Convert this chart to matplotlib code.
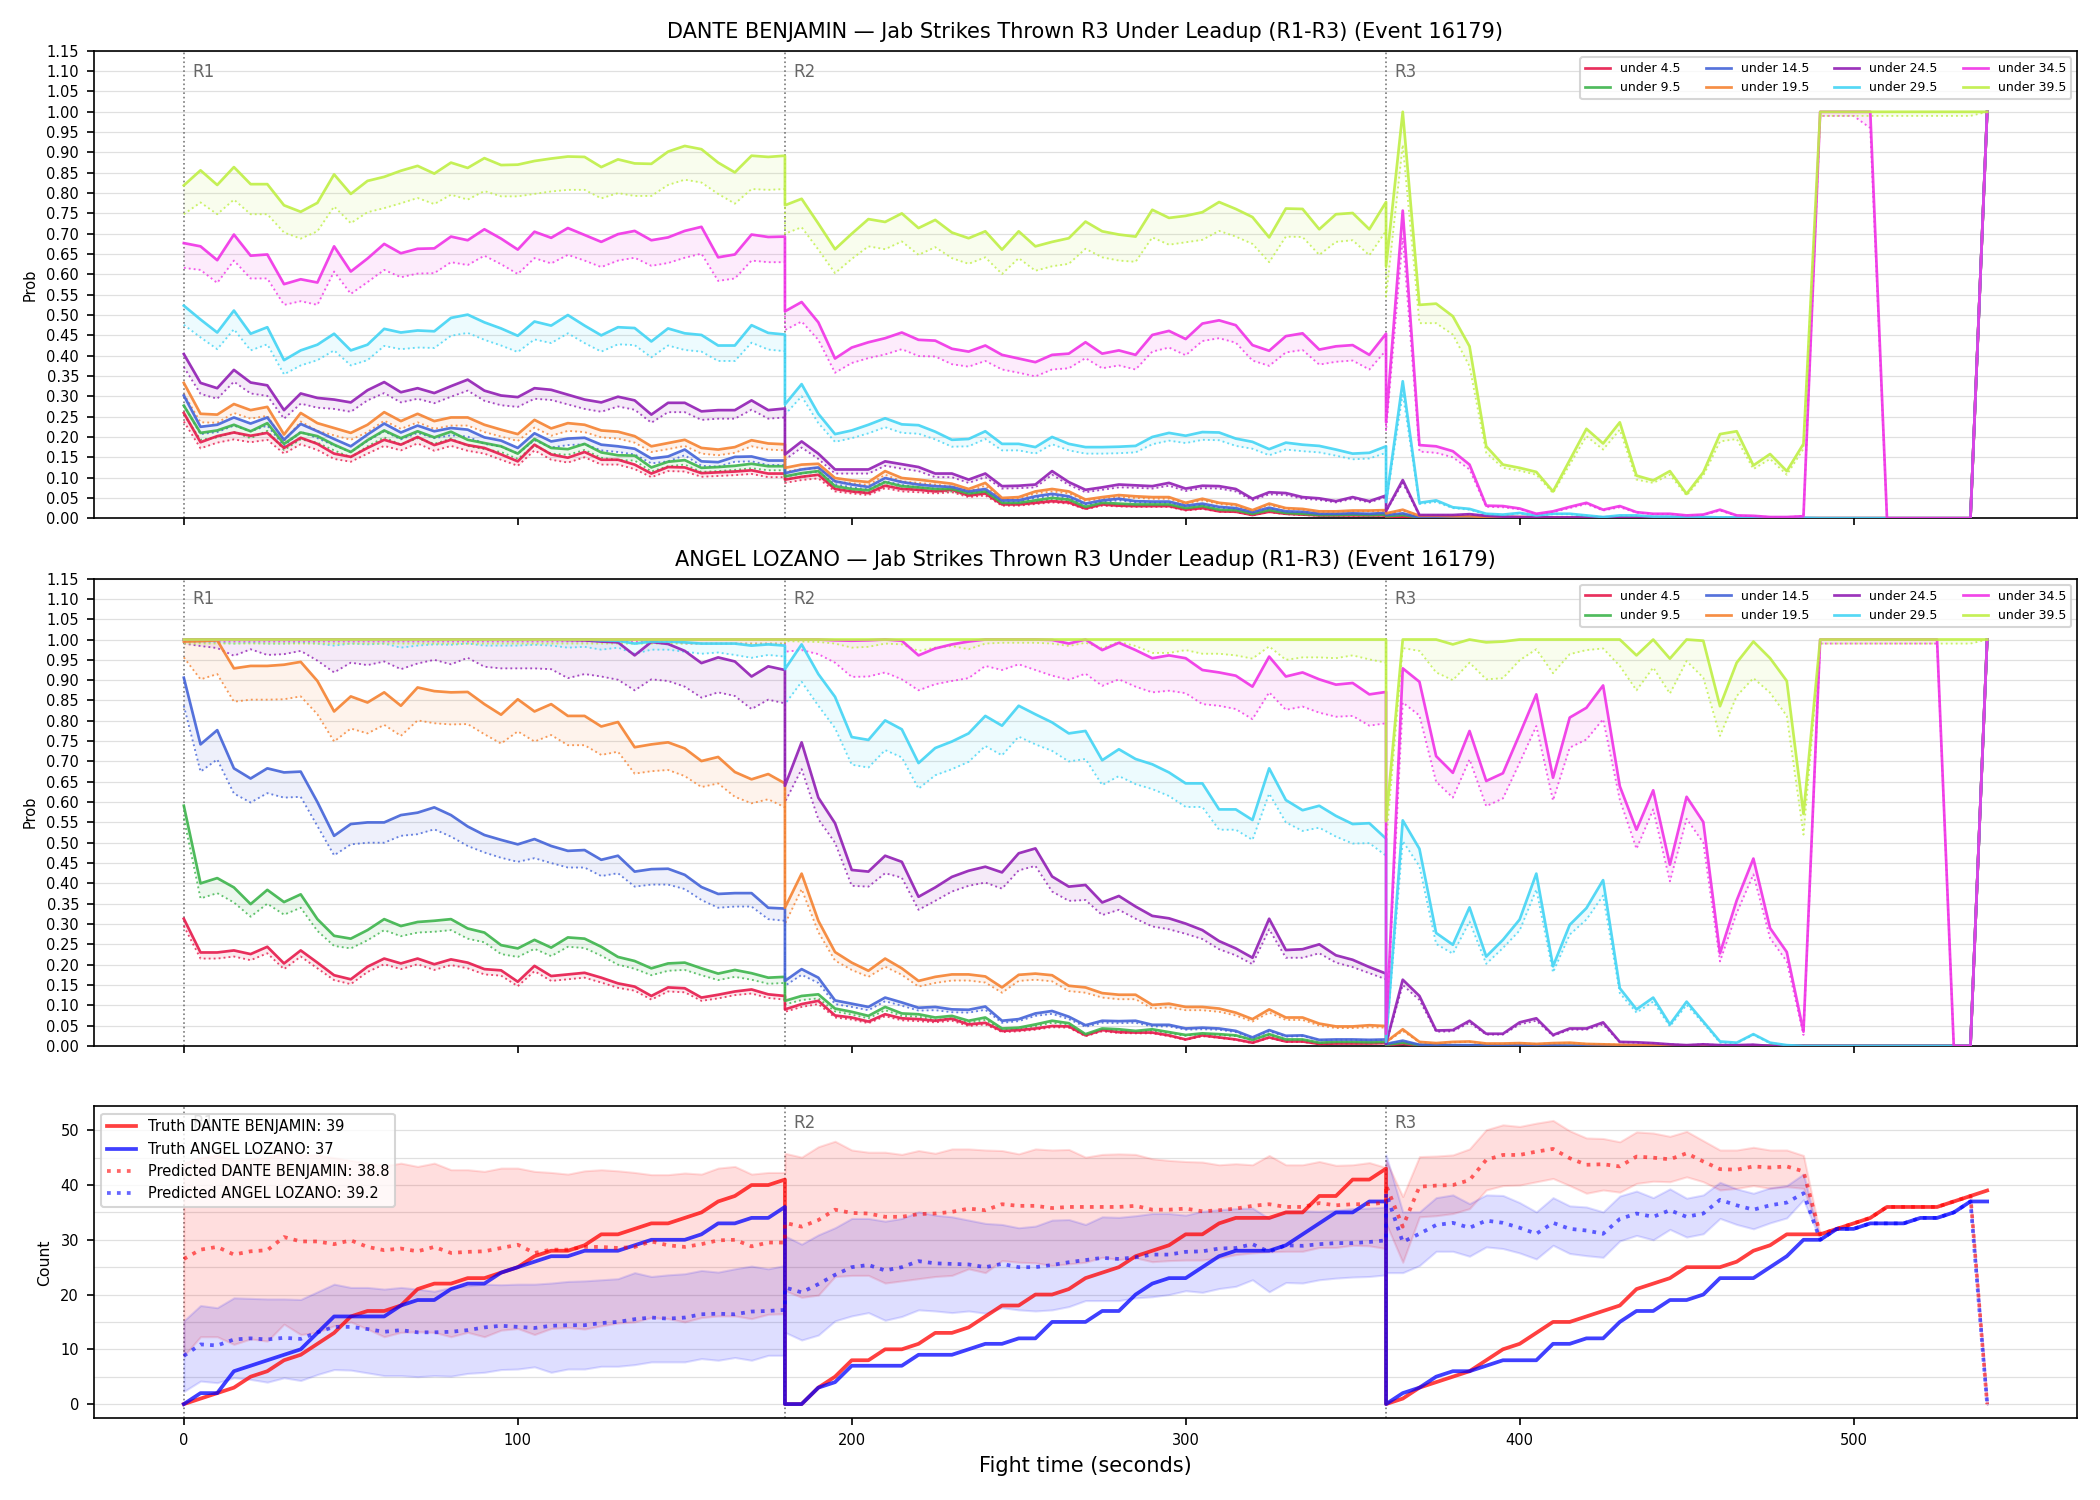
import numpy as np
import matplotlib
matplotlib.use("Agg")
import matplotlib.pyplot as plt
import matplotlib.transforms as mtransforms
from matplotlib.ticker import MultipleLocator, FormatStrFormatter

# ---------------- data ----------------
ROUND_TIMES = list(range(0, 181, 5))      # seconds inside a round
ROUND_STARTS = [0, 180, 360]
ROUND_LABELS = ["R1", "R2", "R3"]
THRESHOLDS = ["under 4.5", "under 9.5", "under 14.5", "under 19.5",
              "under 24.5", "under 29.5", "under 34.5", "under 39.5"]
COLORS = ["#e6194b", "#3cb44b", "#4363d8", "#f58231",
          "#911eb4", "#42d4f4", "#f032e6", "#bfef45"]
NAME_A = "DANTE BENJAMIN"
NAME_B = "ANGEL LOZANO"
TITLE_SUFFIX = " \u2014 Jab Strikes Thrown R3 Under Leadup (R1-R3) (Event 16179)"
FINAL_TRUTH_A = 39
FINAL_TRUTH_B = 37
FINAL_PRED_A = 38.8
FINAL_PRED_B = 39.2

# ---- DANTE BENJAMIN probabilities (solid) and lower (dotted) ----
D_U4 = ([.259,.187,.202,.211,.203,.210,.173,.198,.183,.159,.151,.173,.193,.181,.200,.180,.193,.180,.173,.157,.140,.181,.157,.149,.163,.144,.144,.132,.110,.126,.125,.111,.113,.115,.118,.110,.110]
        + [.095,.102,.107,.072,.066,.062,.080,.072,.070,.066,.070,.056,.061,.034,.034,.038,.042,.039,.024,.034,.031,.030,.030,.030,.021,.025,.017,.016,.008,.016,.011,.009,.007,.007,.007,.007,.007]
        + [.003,.004,.001,.001,.001,.001,.001] + [0] * 29 + [1])
D_U4_DOT = ([.238,.172,.186,.194,.187,.193,.159,.182,.168,.146,.139,.159,.178,.167,.184,.166,.178,.166,.159,.144,.129,.167,.144,.137,.150,.132,.132,.121,.101,.116,.115,.102,.104,.106,.109,.101,.101]
            + [.087,.094,.098,.066,.061,.057,.074,.066,.064,.061,.064,.052,.056,.031,.031,.035,.039,.036,.022,.031,.029,.028,.028,.028,.019,.023,.016,.015,.007,.015,.010,.008,.006,.006,.006,.006,.006]
            + [.003,.004,.001,.001,.001,.001,.001] + [0] * 29 + [1])
D_U9 = ([.277,.210,.216,.230,.214,.234,.183,.211,.202,.181,.163,.192,.216,.197,.214,.199,.213,.193,.185,.177,.159,.195,.173,.170,.183,.162,.155,.154,.125,.139,.143,.124,.126,.129,.134,.128,.128]
        + [.103,.111,.116,.079,.072,.069,.089,.079,.076,.072,.072,.061,.066,.038,.038,.044,.050,.046,.028,.038,.036,.034,.034,.034,.025,.030,.021,.020,.011,.020,.013,.011,.008,.008,.009,.008,.009]
        + [.005,.008,.002,.002,.002,.001,.001] + [0] * 29 + [1])
D_U9_DOT = ([.255,.193,.199,.212,.197,.215,.168,.194,.186,.167,.150,.177,.199,.181,.197,.183,.196,.178,.170,.163,.146,.179,.159,.156,.168,.149,.143,.142,.115,.128,.132,.114,.116,.119,.123,.118,.118]
            + [.095,.102,.107,.073,.066,.063,.082,.073,.070,.066,.066,.056,.061,.035,.035,.040,.046,.042,.026,.035,.033,.031,.031,.031,.023,.028,.019,.018,.010,.018,.012,.010,.007,.007,.008,.007,.008]
            + [.004,.007,.002,.002,.002,.001,.001] + [0] * 29 + [1])
D_U14 = ([.302,.225,.230,.248,.233,.248,.193,.232,.214,.195,.177,.206,.233,.211,.228,.214,.222,.218,.199,.191,.173,.209,.189,.196,.198,.181,.177,.171,.147,.152,.169,.140,.138,.151,.152,.142,.142]
         + [.111,.120,.125,.091,.083,.077,.099,.089,.083,.079,.077,.066,.072,.044,.044,.054,.060,.054,.036,.044,.048,.042,.041,.041,.031,.036,.028,.025,.015,.026,.017,.016,.011,.011,.012,.011,.013]
         + [.008,.012,.002,.002,.002,.002,.001] + [0] * 29 + [1])
D_U14_DOT = ([.278,.207,.212,.228,.214,.228,.178,.213,.197,.179,.163,.190,.214,.194,.210,.197,.204,.201,.183,.176,.159,.192,.174,.180,.182,.167,.163,.157,.135,.140,.155,.129,.127,.139,.140,.131,.131]
             + [.102,.110,.115,.084,.076,.071,.091,.082,.076,.073,.071,.061,.066,.040,.040,.050,.055,.050,.033,.040,.044,.039,.038,.038,.029,.033,.026,.023,.014,.024,.016,.015,.010,.010,.011,.010,.012]
             + [.007,.011,.002,.002,.002,.002,.001] + [0] * 29 + [1])
D_U19 = ([.333,.257,.255,.281,.266,.274,.206,.259,.234,.222,.210,.230,.261,.239,.257,.239,.248,.248,.230,.218,.207,.242,.221,.234,.230,.216,.213,.202,.177,.185,.193,.173,.169,.175,.192,.184,.182]
         + [.124,.132,.134,.099,.093,.089,.116,.099,.095,.090,.085,.072,.087,.050,.052,.066,.072,.066,.046,.052,.057,.054,.052,.052,.038,.048,.038,.034,.020,.036,.025,.023,.017,.017,.019,.019,.020]
         + [.012,.021,.006,.006,.005,.005,.003,.003,.003,.002,.002,.001,.001,.001,.001,.001,.001,.001,.001,.001] + [0] * 16 + [1])
D_U19_DOT = ([.306,.236,.235,.259,.245,.252,.190,.238,.215,.204,.193,.212,.240,.220,.236,.220,.228,.228,.212,.201,.190,.223,.203,.215,.212,.199,.196,.186,.163,.170,.178,.159,.155,.161,.177,.169,.167]
             + [.114,.121,.123,.091,.086,.082,.107,.091,.087,.083,.078,.066,.080,.046,.048,.061,.066,.061,.042,.048,.052,.050,.048,.048,.035,.044,.035,.031,.018,.033,.023,.021,.016,.016,.017,.017,.018]
             + [.011,.019,.006,.006,.005,.005,.003,.003,.003,.002,.002,.001,.001,.001,.001,.001,.001,.001,.001,.001] + [0] * 16 + [1])
D_U24 = ([.404,.333,.320,.365,.334,.327,.266,.307,.296,.292,.285,.315,.335,.310,.320,.308,.325,.341,.314,.302,.298,.320,.316,.304,.292,.285,.299,.290,.255,.284,.284,.263,.266,.266,.290,.266,.270]
         + [.157,.189,.159,.120,.120,.120,.140,.133,.126,.110,.110,.095,.110,.079,.080,.083,.116,.089,.070,.076,.083,.081,.079,.087,.073,.080,.079,.072,.048,.064,.062,.052,.049,.042,.052,.042,.056]
         + [.018,.094,.008,.008,.008,.010,.006,.004,.003,.003,.002,.002,.002,.002,.002,.001,.001,.001,.001,.001] + [0] * 16 + [1])
D_U24_DOT = ([.372,.306,.294,.336,.307,.301,.245,.282,.272,.269,.262,.290,.308,.285,.294,.283,.299,.314,.289,.278,.274,.294,.291,.280,.269,.262,.275,.267,.235,.261,.261,.242,.245,.245,.267,.245,.248]
             + [.144,.174,.146,.110,.110,.110,.129,.122,.116,.101,.101,.087,.101,.073,.074,.076,.107,.082,.064,.070,.076,.075,.073,.080,.067,.074,.073,.066,.044,.059,.057,.048,.045,.039,.048,.039,.052]
             + [.017,.087,.007,.007,.007,.009,.006,.004,.003,.003,.002,.002,.002,.002,.002,.001,.001,.001,.001,.001] + [0] * 16 + [1])
D_U29 = ([.523,.489,.457,.511,.454,.470,.389,.413,.427,.454,.413,.427,.466,.457,.462,.460,.493,.501,.482,.467,.449,.484,.474,.500,.474,.450,.470,.468,.435,.467,.455,.451,.425,.425,.475,.456,.452]
         + [.280,.330,.257,.207,.216,.230,.246,.231,.229,.213,.193,.195,.214,.183,.183,.175,.200,.183,.175,.175,.176,.178,.200,.210,.203,.212,.211,.196,.188,.170,.186,.181,.178,.169,.159,.161,.177]
         + [.040,.337,.038,.044,.027,.023,.011,.009,.013,.007,.011,.011,.007,.003,.007,.007,.004,.004,.003,.003,.002,.002,.001,.001,.001,.001] + [0] * 10 + [1])
D_U29_DOT = ([.476,.445,.416,.465,.413,.428,.354,.376,.389,.413,.376,.389,.424,.416,.420,.419,.449,.456,.439,.425,.409,.440,.431,.455,.431,.410,.428,.426,.396,.425,.414,.410,.387,.387,.432,.415,.411]
             + [.255,.300,.234,.188,.197,.209,.224,.210,.208,.194,.176,.177,.195,.167,.167,.159,.182,.167,.159,.159,.160,.162,.182,.191,.185,.193,.192,.178,.171,.155,.169,.165,.162,.154,.145,.147,.161]
             + [.036,.307,.035,.040,.025,.021,.010,.008,.012,.006,.010,.010,.006,.003,.006,.006,.004,.004,.003,.003,.002,.002,.001,.001,.001,.001] + [0] * 10 + [1])
D_U34 = ([.677,.669,.635,.698,.646,.649,.576,.588,.580,.669,.607,.639,.675,.652,.663,.664,.693,.684,.711,.688,.661,.705,.690,.714,.697,.680,.699,.707,.684,.691,.707,.717,.642,.649,.698,.692,.693]
         + [.509,.532,.482,.393,.420,.433,.443,.457,.439,.437,.417,.410,.425,.402,.393,.384,.402,.405,.433,.405,.413,.402,.451,.461,.441,.479,.487,.475,.426,.412,.448,.455,.415,.423,.426,.402,.454]
         + [.236,.757,.180,.177,.165,.132,.031,.030,.024,.011,.017,.028,.038,.021,.030,.015,.011,.011,.007,.009,.021,.007,.006,.003,.003,.005,1,1,1,1,0,0,0,0,0,0,1])
D_U34_DOT = ([.616,.611,.579,.634,.590,.590,.525,.534,.525,.607,.552,.581,.611,.593,.602,.603,.630,.623,.646,.625,.601,.640,.627,.648,.634,.618,.634,.641,.621,.628,.641,.651,.584,.590,.634,.630,.630]
             + [.463,.484,.439,.358,.382,.394,.403,.416,.399,.398,.379,.373,.387,.366,.358,.349,.366,.369,.394,.369,.376,.366,.410,.420,.401,.436,.443,.432,.388,.375,.408,.414,.378,.385,.388,.366,.413]
             + [.215,.690,.164,.161,.150,.120,.028,.027,.022,.010,.015,.025,.035,.019,.027,.014,.010,.010,.006,.008,.019,.006,.005,.003,.003,.005,.99,.99,.99,.96,0,0,0,0,0,0,1])
D_U39 = ([.819,.856,.820,.864,.822,.822,.770,.754,.776,.846,.798,.830,.840,.855,.867,.848,.875,.862,.886,.869,.870,.879,.885,.890,.889,.864,.883,.873,.872,.902,.916,.908,.875,.851,.892,.889,.892]
         + [.770,.786,.725,.662,.700,.736,.729,.750,.714,.734,.703,.689,.706,.661,.706,.669,.680,.689,.730,.706,.698,.693,.759,.739,.744,.753,.778,.761,.741,.691,.762,.761,.711,.748,.751,.711,.778]
         + [.620,1.0,.525,.528,.497,.423,.177,.132,.124,.114,.066,.143,.220,.184,.236,.105,.093,.116,.060,.113,.207,.214,.130,.158,.116,.183] + [1] * 11)
D_U39_DOT = ([.748,.777,.748,.784,.748,.748,.703,.688,.706,.767,.726,.753,.763,.775,.788,.773,.796,.784,.805,.792,.792,.798,.804,.808,.808,.787,.800,.793,.793,.820,.833,.826,.798,.774,.810,.808,.810]
             + [.700,.716,.661,.603,.638,.669,.662,.681,.648,.667,.640,.626,.642,.601,.640,.609,.620,.626,.663,.642,.634,.631,.691,.673,.679,.685,.707,.693,.675,.630,.693,.692,.648,.680,.684,.647,.707]
             + [.545,.919,.480,.480,.452,.374,.161,.124,.117,.107,.062,.132,.202,.169,.218,.095,.087,.107,.056,.105,.189,.195,.121,.146,.107,.171] + [.99] * 10 + [1])

# ---- ANGEL LOZANO probabilities ----
A_U4 = ([.313,.230,.230,.235,.226,.244,.203,.235,.205,.174,.164,.195,.215,.203,.215,.201,.213,.205,.189,.186,.158,.197,.172,.176,.180,.168,.154,.146,.123,.144,.142,.119,.126,.134,.139,.127,.123]
        + [.090,.103,.111,.075,.070,.060,.078,.068,.066,.062,.067,.053,.057,.037,.039,.043,.049,.048,.026,.039,.034,.033,.033,.026,.016,.026,.021,.016,.008,.021,.011,.011,.005,.006,.006,.006,.007]
        + [.002,.005,.001,.001,.001,.001] + [0] * 30 + [1])
A_U4_DOT = ([.295,.215,.215,.220,.211,.228,.189,.220,.191,.162,.152,.182,.201,.189,.201,.187,.199,.191,.176,.173,.147,.184,.160,.164,.168,.156,.143,.136,.114,.134,.132,.111,.117,.125,.129,.118,.114]
            + [.084,.096,.103,.070,.065,.056,.073,.063,.061,.058,.062,.049,.053,.034,.036,.040,.046,.045,.024,.036,.032,.031,.031,.024,.015,.024,.020,.015,.007,.020,.010,.010,.005,.006,.006,.006,.007]
            + [.002,.005,.001,.001,.001,.001] + [0] * 30 + [1])
A_U9 = ([.591,.400,.413,.390,.349,.384,.354,.373,.312,.271,.264,.285,.312,.295,.305,.308,.312,.289,.279,.248,.240,.261,.242,.267,.264,.244,.219,.209,.191,.203,.205,.191,.178,.187,.179,.168,.170]
        + [.111,.123,.127,.092,.084,.074,.096,.080,.078,.070,.074,.062,.070,.043,.045,.053,.062,.056,.029,.043,.041,.037,.041,.034,.027,.031,.029,.026,.015,.029,.016,.016,.008,.010,.010,.009,.010]
        + [.003,.008,.002,.002,.001,.001,.001] + [0] * 29 + [1])
A_U9_DOT = ([.560,.363,.376,.353,.318,.350,.323,.340,.283,.246,.240,.260,.285,.270,.279,.281,.285,.264,.255,.226,.219,.239,.221,.244,.241,.222,.200,.190,.174,.185,.187,.174,.162,.170,.163,.153,.155]
            + [.102,.113,.117,.085,.077,.068,.088,.074,.072,.064,.068,.057,.064,.040,.041,.049,.057,.052,.027,.040,.038,.034,.038,.031,.025,.029,.027,.024,.014,.027,.015,.015,.007,.009,.009,.008,.009]
            + [.003,.007,.002,.002,.001,.001,.001] + [0] * 29 + [1])
A_U14 = ([.906,.742,.777,.683,.658,.683,.673,.675,.600,.517,.546,.550,.550,.568,.574,.587,.568,.540,.519,.507,.496,.509,.492,.480,.482,.458,.468,.429,.435,.436,.421,.391,.374,.376,.376,.340,.338]
         + [.160,.189,.168,.112,.104,.096,.119,.107,.094,.096,.090,.089,.097,.062,.066,.080,.086,.072,.051,.062,.061,.062,.052,.052,.043,.045,.043,.037,.021,.039,.025,.026,.015,.016,.016,.015,.016]
         + [.005,.013,.003,.003,.002,.002,.002,.001,.001,.001,.001] + [0] * 25 + [1])
A_U14_DOT = ([.837,.675,.705,.621,.599,.622,.611,.613,.541,.469,.496,.500,.500,.517,.521,.533,.515,.492,.476,.463,.453,.462,.450,.439,.439,.418,.425,.392,.397,.397,.386,.359,.340,.343,.343,.312,.308]
             + [.148,.175,.155,.103,.096,.088,.110,.099,.087,.088,.083,.082,.089,.057,.061,.074,.079,.066,.047,.057,.056,.057,.048,.048,.040,.041,.040,.034,.019,.036,.023,.024,.014,.015,.015,.014,.015]
             + [.005,.012,.003,.003,.002,.002,.002,.001,.001,.001,.001] + [0] * 25 + [1])
A_U19 = ([.995,.996,.998,.929,.935,.935,.938,.945,.898,.823,.860,.845,.870,.837,.882,.873,.870,.871,.841,.815,.853,.823,.841,.812,.812,.786,.797,.735,.742,.747,.732,.701,.711,.674,.656,.669,.646]
         + [.340,.424,.308,.231,.205,.185,.215,.191,.160,.170,.176,.176,.171,.144,.175,.178,.174,.148,.144,.130,.126,.126,.101,.104,.096,.096,.092,.082,.066,.090,.070,.070,.055,.048,.048,.051,.049]
         + [.010,.041,.010,.007,.010,.011,.006,.006,.007,.005,.007,.008,.005,.004,.003,.002,.002,.001,.001,.001] + [0] * 16 + [1])
A_U19_DOT = ([.956,.902,.915,.847,.852,.852,.853,.860,.816,.749,.781,.769,.790,.763,.801,.794,.791,.792,.767,.744,.774,.749,.765,.740,.740,.716,.724,.670,.676,.679,.664,.637,.646,.613,.597,.607,.587]
             + [.300,.386,.280,.210,.187,.170,.195,.175,.146,.155,.161,.161,.156,.131,.160,.163,.159,.135,.131,.119,.115,.115,.092,.095,.088,.088,.084,.075,.060,.082,.064,.064,.050,.044,.044,.046,.045]
             + [.009,.037,.009,.006,.009,.010,.005,.005,.006,.005,.006,.007,.005,.004,.003,.002,.002,.001,.001,.001] + [0] * 16 + [1])
A_U24 = ([1] * 23 + [.999,.998,.995,.993,.961,.994,.989,.972,.942,.956,.946,.909,.934,.925]
         + [.640,.747,.611,.548,.433,.429,.468,.453,.367,.390,.416,.431,.441,.427,.474,.486,.417,.392,.396,.353,.369,.343,.320,.314,.301,.285,.258,.240,.217,.313,.236,.238,.250,.223,.212,.194,.178]
         + [.005,.163,.123,.038,.039,.062,.030,.030,.058,.068,.027,.043,.043,.058,.010,.009,.007,.004,.002,.004,.002,.002,.003] + [0] * 13 + [1])
A_U24_DOT = ([.990,.984,.979,.960,.976,.962,.964,.972,.948,.919,.943,.937,.946,.927,.941,.950,.939,.955,.933,.929,.929,.929,.927,.905,.915,.909,.901,.875,.902,.898,.884,.857,.870,.861,.829,.852,.843]
             + [.600,.681,.558,.500,.394,.392,.425,.414,.335,.357,.380,.394,.402,.387,.432,.443,.380,.357,.359,.322,.335,.313,.294,.287,.276,.263,.238,.223,.201,.287,.217,.217,.228,.205,.194,.179,.164]
             + [.004,.150,.113,.035,.036,.057,.028,.028,.053,.062,.025,.040,.040,.053,.009,.008,.006,.004,.002,.004,.002,.002,.003] + [0] * 13 + [1])
A_U29 = ([1] * 25 + [.998,.997,.990,.995,.995,.993,.990,.990,.990,.985,.988,.985]
         + [.927,.988,.915,.859,.760,.753,.801,.779,.696,.733,.749,.769,.812,.788,.837,.816,.796,.769,.775,.703,.730,.706,.693,.673,.646,.646,.582,.582,.556,.683,.605,.580,.591,.566,.546,.548,.510]
         + [.010,.555,.485,.278,.249,.341,.220,.261,.311,.424,.196,.298,.339,.408,.142,.090,.119,.053,.109,.060,.011,.008,.029,.008,.002] + [0] * 11 + [1])
A_U29_DOT = ([.995,.993,.993,.990,.992,.990,.990,.992,.990,.985,.990,.988,.990,.980,.985,.988,.987,.990,.985,.985,.985,.987,.985,.980,.982,.975,.980,.965,.975,.975,.970,.965,.968,.962,.955,.962,.958]
             + [.841,.896,.837,.782,.692,.685,.728,.710,.633,.666,.681,.699,.738,.715,.761,.742,.726,.700,.706,.642,.664,.644,.632,.615,.588,.588,.532,.532,.507,.621,.550,.529,.537,.515,.498,.499,.468]
             + [.009,.504,.442,.251,.227,.306,.202,.241,.284,.385,.181,.274,.311,.370,.130,.082,.109,.048,.101,.056,.008,.007,.027,.007,.002] + [0] * 11 + [1])
A_U34 = ([1] * 37
         + [1,1,1,.998,.997,.998,1,.997,.961,.978,.988,.995,1,1,1,1,.999,.990,1,.974,.992,.974,.954,.961,.954,.925,.919,.911,.884,.958,.909,.919,.902,.889,.893,.865,.871]
         + [.030,.929,.896,.713,.672,.775,.652,.671,.767,.865,.660,.808,.832,.887,.639,.532,.629,.446,.613,.551,.228,.358,.461,.290,.231,.035] + [1] * 8 + [0, 0, 1])
A_U34_DOT = ([.995] * 30 + [.99] * 7
             + [.970,.974,.964,.943,.908,.909,.919,.902,.875,.890,.898,.905,.935,.925,.939,.925,.911,.901,.916,.886,.902,.884,.870,.874,.868,.841,.837,.829,.804,.870,.827,.835,.820,.810,.812,.788,.794]
             + [.027,.845,.813,.650,.611,.705,.590,.609,.697,.787,.604,.734,.754,.804,.606,.485,.582,.405,.559,.500,.208,.327,.422,.265,.208,.027] + [.99] * 8 + [0, 0, 1])
A_U39 = ([1] * 37 + [1] * 37
         + [.553,1,1,1,.988,1,.993,.995,1,1,1,1,1,1,1,.961,1,.953,1,.997,.836,.943,.995,.954,.898,.571] + [1] * 11)
A_U39_DOT = ([.99] * 37
             + [.996,.995,.994,.990,.980,.982,.990,.988,.972,.980,.984,.976,.990,.992,.992,.992,.990,.984,.992,.979,.994,.984,.967,.967,.974,.965,.965,.961,.953,.983,.950,.956,.956,.954,.961,.951,.943]
             + [.500,.979,.972,.919,.900,.943,.902,.905,.949,.976,.917,.964,.974,.978,.935,.875,.931,.867,.947,.906,.763,.861,.905,.869,.812,.520] + [.99] * 10 + [1])

# ---- cumulative counts ----
TRUTH_A = ([0,1,2,3,5,6,8,9,11,13,16,17,17,18,21,22,22,23,23,24,25,27,28,28,29,31,31,32,33,33,34,35,37,38,40,40,41]
           + [0,0,3,5,8,8,10,10,11,13,13,14,16,18,18,20,20,21,23,24,25,27,28,29,31,31,33,34,34,34,35,35,38,38,41,41,43]
           + [0,1,3,4,5,6,8,10,11,13,15,15,16,17,18,21,22,23,25,25,25,26,28,29,31,31,31,32,33,34,36,36,36,36,37,38,39])
TRUTH_B = ([0,2,2,6,7,8,9,10,13,16,16,16,16,18,19,19,21,22,22,24,25,26,27,27,28,28,28,29,30,30,30,31,33,33,34,34,36]
           + [0,0,3,4,7,7,7,7,9,9,9,10,11,11,12,12,15,15,15,17,17,20,22,23,23,25,27,28,28,28,29,31,33,35,35,37,37]
           + [0,2,3,5,6,6,7,8,8,8,11,11,12,12,15,17,17,19,19,20,23,23,23,25,27,30,30,32,32,33,33,33,34,34,35,37,37])
PRED_A = ([26.5,28.2,28.7,27.3,27.9,28.1,30.5,29.7,29.7,29.2,29.9,28.7,28.1,28.4,27.9,28.7,27.6,27.8,27.9,28.5,29.1,27.6,28.2,28.2,28.7,28.7,28.5,28.7,29.7,29.0,28.7,29.2,29.9,30.0,28.8,29.5,29.5]
          + [33.1,32.4,33.6,35.5,34.9,34.8,34.2,34.2,34.7,34.8,35.1,35.7,35.4,36.5,36.2,36.2,35.8,36.0,36.0,36.0,36.0,36.2,35.5,35.5,35.7,35.2,35.4,35.7,36.2,36.5,36.0,36.0,36.7,36.3,36.5,36.5,36.8]
          + [40.0,32.4,39.7,39.9,40.0,40.9,44.6,45.5,45.5,46.1,46.6,44.9,43.7,43.8,43.4,45.2,45.0,44.7,45.8,44.3,42.9,42.8,43.4,43.2,43.4,42.5,31,32,33,34,36,36,36,36,37,38,0])
PRED_A_LO = ([8.8,12.3,12.3,10.9,11.9,11.5,14.6,12.7,13.1,14.3,15.0,13.7,12.3,13.1,13.2,13.1,12.3,13.1,12.3,13.5,13.8,12.7,13.8,14.0,13.7,14.3,14.8,15.0,15.8,15.6,15.0,15.8,16.1,16.1,15.6,16.4,16.5]
             + [20.7,19.5,19.9,23.3,23.5,23.5,22.1,22.5,22.9,23.3,23.5,24.7,24.0,26.2,25.9,25.8,25.3,25.6,25.9,26.8,26.4,26.7,26.0,26.2,26.3,26.3,26.7,27.3,27.6,27.8,27.9,27.9,28.6,28.6,29.0,28.9,28.4]
             + [33.0,25.9,34.2,34.4,34.8,35.7,39.1,39.9,40.0,40.6,41.2,39.9,38.5,39.1,38.7,40.3,40.7,40.6,41.5,40.6,39.1,39.4,39.9,39.4,39.7,39.4,31,32,33,34,36,36,36,36,37,38,0])
PRED_A_HI = ([44.0,45.0,45.5,44.5,44.8,45.0,46.0,45.5,45.5,45.0,44.5,44.0,43.5,44.0,43.4,44.0,42.8,42.8,42.5,43.1,43.1,42.5,42.3,42.0,42.6,42.8,42.6,42.3,41.9,41.9,42.2,42.0,43.1,43.4,42.0,42.3,42.3]
             + [45.8,45.1,47.0,48.0,46.4,46.0,46.0,45.6,46.3,45.8,46.6,46.6,46.4,46.3,45.7,46.6,46.4,46.5,45.1,45.6,45.7,45.6,44.8,44.5,44.3,44.2,43.7,43.9,43.7,45.4,43.7,43.7,44.3,43.6,43.7,44.1,43.2]
             + [44.5,37.9,45.2,45.3,45.5,46.6,50.1,51.0,50.7,51.3,51.8,49.9,48.6,48.5,47.9,49.7,49.5,48.9,49.8,48.1,46.4,46.4,46.9,46.4,46.4,45.4,31,32,33,34,36,36,36,36,37,38,0])
PRED_B = ([8.8,10.9,10.7,11.8,12.0,11.8,12.1,11.9,13.1,14.1,14.1,13.7,13.2,13.5,13.1,13.1,13.2,13.5,14.0,14.3,14.1,13.9,14.3,14.4,14.4,14.8,15.0,15.5,15.8,15.6,15.8,16.4,16.5,16.4,16.9,17.0,17.2]
          + [21.3,20.4,21.9,23.6,25.0,25.4,24.4,25.0,26.1,25.7,25.6,25.5,25.0,25.6,25.0,25.0,25.4,25.9,26.3,26.7,26.5,26.8,27.3,27.3,27.8,27.9,28.4,28.5,29.2,27.8,29.0,28.9,29.2,29.4,29.4,29.6,29.9]
          + [38.5,29.6,31.1,32.7,33.1,32.2,33.5,33.1,32.2,31.1,33.1,32.0,31.7,31.1,33.8,34.8,34.2,35.4,34.2,34.8,37.3,36.3,35.5,36.3,36.8,38.5,30,32,32,33,33,33,34,34,35,37,0])
PRED_B_LO = ([2.3,4.2,3.9,4.8,4.5,4.0,4.8,4.3,5.4,6.3,6.2,5.7,5.2,5.2,5.0,5.2,5.1,5.6,5.8,6.3,6.4,6.8,5.8,6.4,6.4,6.9,6.9,7.2,7.7,7.7,7.7,8.3,8.0,8.5,8.0,8.9,8.9]
             + [13.1,11.7,12.6,15.2,16.1,16.7,15.3,16.0,17.2,17.0,16.7,17.0,16.6,17.6,17.2,17.0,17.2,17.8,18.9,18.9,18.9,19.4,19.6,20.0,20.7,20.4,21.1,21.5,22.7,20.5,22.2,22.1,22.7,23.0,23.2,23.3,23.6]
             + [24.0,24.0,25.3,27.9,27.9,27.0,28.7,28.4,27.6,26.5,29.0,27.5,27.1,26.8,29.8,30.8,30.0,31.9,30.5,31.1,33.9,32.8,32.0,33.1,34.0,37.3,30,32,32,33,33,33,34,34,35,37,0])
PRED_B_HI = ([15.2,18.0,17.6,19.4,19.3,19.2,19.2,19.1,20.5,21.9,21.3,21.3,21.0,21.3,21.0,20.6,21.3,21.6,21.9,21.8,21.9,21.9,22.1,22.4,22.5,22.7,22.9,24.0,23.3,23.6,23.8,24.4,24.1,24.7,25.2,24.7,25.3]
             + [30.7,29.2,30.9,32.2,33.9,33.9,33.4,33.9,35.1,34.5,34.2,33.6,33.0,32.8,32.2,32.5,33.6,33.7,32.8,34.2,34.1,34.4,34.8,34.8,34.5,35.2,35.5,35.7,35.8,33.9,35.3,35.3,35.2,35.4,35.7,35.8,36.0]
             + [45.5,35.1,35.1,37.7,38.2,36.6,38.2,38.1,36.8,35.1,37.7,36.2,36.0,35.1,38.0,38.9,37.7,39.3,37.6,38.2,40.5,39.3,38.5,39.5,39.9,42.0,30,32,32,33,33,33,34,34,35,37,0])

# ---------------- checks ----------------
_named = {k: v for k, v in dict(globals()).items()
          if isinstance(v, list) and (k.startswith(("D_U", "A_U", "TRUTH", "PRED")))}
_bad = {k: len(v) for k, v in _named.items() if len(v) != 111}
if _bad:
    raise SystemExit("length mismatch: %r" % _bad)

# ---------------- plot ----------------
t = np.array([s + x for s in ROUND_STARTS for x in ROUND_TIMES], dtype=float)

plt.rcParams["font.family"] = ["DejaVu Sans"]
fig = plt.figure(figsize=(14, 10), dpi=150)
ax1 = fig.add_axes([0.0446, 0.6545, 0.9446, 0.3116])
ax2 = fig.add_axes([0.0446, 0.3027, 0.9446, 0.3116], sharex=ax1)
ax3 = fig.add_axes([0.0446, 0.0545, 0.9446, 0.2080], sharex=ax1)


def round_marks(ax):
    trans = mtransforms.blended_transform_factory(ax.transData, ax.transAxes)
    for s, lab in zip(ROUND_STARTS, ROUND_LABELS):
        ax.axvline(s, color="0.35", ls=":", lw=0.8, alpha=0.8, zorder=1)
        ax.text(s + 2.5, 0.975, lab, transform=trans, va="top", ha="left",
                fontsize=8, color="0.4", zorder=1)


def prob_panel(ax, solid, dotted, title):
    for lab, col, y, yd in zip(THRESHOLDS, COLORS, solid, dotted):
        y = np.asarray(y, float)
        yd = np.asarray(yd, float)
        ax.fill_between(t, yd, y, color=col, alpha=0.09, lw=0, zorder=2)
        ax.plot(t, yd, color=col, lw=0.9, ls=":", alpha=0.8, zorder=3)
        ax.plot(t, y, color=col, lw=1.3, alpha=0.9, label=lab, zorder=4)
    ax.set_ylim(0, 1.15)
    ax.yaxis.set_major_locator(MultipleLocator(0.05))
    ax.yaxis.set_major_formatter(FormatStrFormatter("%.2f"))
    ax.grid(axis="y", color="0.8", alpha=0.6, lw=0.6)
    ax.set_axisbelow(True)
    ax.set_ylabel("Prob", fontsize=7)
    ax.set_title(title, fontsize=10)
    ax.tick_params(labelsize=7)
    ax.tick_params(axis="x", labelbottom=False)
    ax.legend(loc="upper right", ncol=4, fontsize=6)
    round_marks(ax)


prob_panel(ax1, [D_U4, D_U9, D_U14, D_U19, D_U24, D_U29, D_U34, D_U39],
           [D_U4_DOT, D_U9_DOT, D_U14_DOT, D_U19_DOT, D_U24_DOT, D_U29_DOT, D_U34_DOT, D_U39_DOT],
           NAME_A + TITLE_SUFFIX)
prob_panel(ax2, [A_U4, A_U9, A_U14, A_U19, A_U24, A_U29, A_U34, A_U39],
           [A_U4_DOT, A_U9_DOT, A_U14_DOT, A_U19_DOT, A_U24_DOT, A_U29_DOT, A_U34_DOT, A_U39_DOT],
           NAME_B + TITLE_SUFFIX)

# bottom panel
ax3.fill_between(t, PRED_A_LO, PRED_A_HI, color="red", alpha=0.13, zorder=2)
ax3.fill_between(t, PRED_B_LO, PRED_B_HI, color="blue", alpha=0.13, zorder=2)
ax3.plot(t, TRUTH_A, color="red", lw=1.8, alpha=0.75, zorder=4,
         label="Truth %s: %d" % (NAME_A, FINAL_TRUTH_A))
ax3.plot(t, TRUTH_B, color="blue", lw=1.8, alpha=0.75, zorder=4,
         label="Truth %s: %d" % (NAME_B, FINAL_TRUTH_B))
ax3.plot(t, PRED_A, color="red", lw=1.8, ls=":", alpha=0.6, zorder=5,
         label="Predicted %s: %.1f" % (NAME_A, FINAL_PRED_A))
ax3.plot(t, PRED_B, color="blue", lw=1.8, ls=":", alpha=0.6, zorder=5,
         label="Predicted %s: %.1f" % (NAME_B, FINAL_PRED_B))
ax3.yaxis.set_major_locator(MultipleLocator(10))
ax3.yaxis.set_minor_locator(MultipleLocator(5))
ax3.grid(axis="y", which="both", color="0.8", alpha=0.6, lw=0.6)
ax3.set_axisbelow(True)
ax3.tick_params(labelsize=7)
ax3.tick_params(axis="y", which="minor", length=0)
ax3.set_ylabel("Count", fontsize=7.5)
ax3.set_xlabel("Fight time (seconds)", fontsize=10)
ax3.legend(loc="upper left", fontsize=7)
round_marks(ax3)

fig.savefig("out.png", dpi=150)
